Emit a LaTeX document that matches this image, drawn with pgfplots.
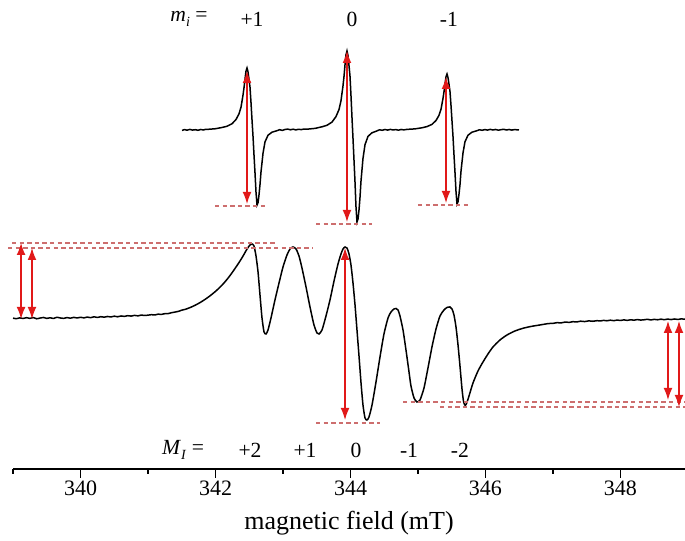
\documentclass[border=0pt]{standalone}
\usepackage{fontspec}
\setmainfont{Liberation Serif}
\usepackage{pgfplots}
\pgfplotsset{compat=1.18}
\usetikzlibrary{arrows.meta}
\definecolor{arr}{RGB}{225,25,25}
\definecolor{dsh}{RGB}{205,110,110}
\tikzset{
  darr/.style={arr, line width=0.6pt, {Latex[length=6pt,width=4.4pt]}-{Latex[length=6pt,width=4.4pt]}},
  dsl/.style={dsh, line width=0.6pt, dash pattern=on 2.2pt off 1.6pt},
}
\begin{document}
\begin{tikzpicture}
\begin{axis}[
  x=33.75pt, y=0.5pt,
  xmin=339, xmax=348.956, ymin=72, ymax=541,
  axis x line*=bottom, axis y line=none,
  clip=false,
  xtick={340,342,...,348},
  minor xtick={339,341,...,347},
  tick align=outside,
  major tick length=4.5pt, minor tick length=2.5pt,
  every tick/.style={black, line width=0.9pt},
  axis line style={line width=1pt, black},
  ticklabel style={font=\fontsize{11}{12}\selectfont, yshift=2pt},
  /pgf/number format/assume math mode=true,
  /pgf/number format/1000 sep={},
  xlabel={magnetic field (mT)},
  xlabel style={font=\fontsize{13}{14}\selectfont, at={(axis description cs:0.5,0)}, anchor=center, yshift=-27pt},
]
% top spectrum (three lines)
\addplot[black, line width=0.75pt] coordinates {
(341.504,410.6)(341.54,411.4)(341.58,410.8)(341.62,411.6)(341.66,410.9)(341.70,411.3)(341.74,410.7)(341.78,411.5)(341.82,411.0)(341.85,411.6)
(341.874,411.6)(341.993,412.2)(342.096,413.5)(342.170,414.7)(342.244,417.2)(342.304,421.5)(342.348,427.1)(342.378,433.9)(342.407,445.7)(342.422,453.2)(342.437,461.8)(342.452,469.9)(342.467,473)(342.481,469.3)(342.496,461.8)(342.511,453.8)(342.526,438.3)(342.541,420.9)(342.556,404.3)(342.570,386.3)(342.585,368.3)(342.600,348.8)(342.615,336)(342.630,338.3)(342.644,345.8)(342.659,356.3)(342.674,369)(342.704,387.8)(342.733,399)(342.778,405.8)(342.837,408.8)(342.911,410.3)
(342.95,411.3)(342.99,410.6)(343.03,411.5)(343.07,411.9)(343.11,411.2)(343.15,411.8)(343.19,411.1)(343.23,411.7)(343.27,411.4)(343.31,411.9)
(343.356,411.8)(343.474,412.6)(343.578,414.2)(343.652,415.7)(343.726,418.9)(343.785,424.4)(343.830,431.5)(343.859,440.2)(343.889,455.2)(343.904,464.7)(343.918,475.8)(343.933,486.1)(343.948,490)(343.963,485.3)(343.977,475.8)(343.992,465.5)(344.007,445.8)(344.022,423.6)(344.037,402.7)(344.052,380.6)(344.067,358.6)(344.081,334.6)(344.096,319)(344.111,321.8)(344.126,331)(344.141,343.8)(344.155,359.5)(344.185,382.5)(344.215,396.3)(344.259,404.6)(344.318,408.2)(344.393,410.1)
(344.43,411.2)(344.47,410.7)(344.51,411.5)(344.55,410.9)(344.59,411.6)(344.63,411.0)(344.67,411.4)(344.71,410.8)(344.75,411.5)(344.79,411.1)
(344.837,411.6)(344.955,412.1)(345.059,413.2)(345.133,414.4)(345.207,416.6)(345.267,420.5)(345.311,425.6)(345.341,431.7)(345.370,442.4)(345.385,449.1)(345.400,456.9)(345.415,464.2)(345.430,467)(345.444,463.6)(345.459,456.9)(345.474,449.6)(345.489,435.6)(345.504,420)(345.519,404.3)(345.533,386.6)(345.548,368.8)(345.563,349.6)(345.578,337)(345.593,339.2)(345.607,346.6)(345.622,356)(345.637,369.6)(345.667,388.1)(345.696,399.2)(345.741,405.8)(345.800,408.8)(345.874,410.3)
(345.91,411.2)(345.95,410.7)(345.99,411.4)(346.03,410.9)(346.07,411.6)(346.11,411.0)(346.15,411.5)(346.19,410.8)(346.23,411.3)(346.27,411.7)(346.31,411.0)(346.35,411.5)(346.39,410.9)(346.43,411.4)(346.496,411.0)
};
% bottom spectrum (five lines)
\addplot[black, line width=0.75pt, smooth, tension=0.4] coordinates {
(339.00,222.8)(339.05,222.3)(339.10,223.1)(339.15,222.5)(339.20,223.3)(339.25,222.6)(339.30,223.4)(339.35,222.2)(339.40,222.9)(339.45,223.5)(339.50,222.6)(339.55,223.2)(339.60,222.5)(339.65,223.7)(339.70,223.0)(339.75,222.6)(339.80,223.4)(339.85,222.8)(339.90,223.6)(339.95,223.0)
(340.00,223.7)(340.05,223.1)(340.10,223.9)(340.15,223.3)(340.20,224.2)(340.25,223.5)(340.30,224.3)(340.35,223.8)(340.40,224.5)(340.45,224.0)(340.50,224.8)(340.55,224.2)(340.60,225.0)(340.65,224.6)(340.70,225.3)(340.75,224.9)(340.80,225.6)(340.85,225.1)(340.90,225.9)(340.95,225.5)
(341.00,225.8)(341.05,226.3)(341.10,226.0)(341.15,226.8)(341.20,226.6)(341.25,227.3)(341.30,227.4)(341.35,228.3)(341.40,228.9)(341.45,229.6)(341.50,230.8)(341.55,231.6)(341.60,232.8)(341.65,234.2)(341.70,235.8)(341.75,237.6)(341.80,239.6)(341.85,241.8)(341.90,244.2)
(341.95,246.8)(342.00,249.6)(342.05,252.7)(342.10,256.1)(342.15,259.9)(342.20,264.1)(342.25,268.7)(342.30,273.6)
(342.363,280.0)(342.422,286.6)(342.467,292)(342.511,296)(342.541,297)(342.570,295)(342.600,285)(342.630,269)(342.659,246)(342.689,223)(342.719,209)(342.748,207)(342.778,211)(342.822,223)(342.881,241)(342.941,258)
(343.000,274)(343.059,286)(343.104,292)(343.148,294)(343.193,292)(343.237,285)(343.281,273)(343.341,254)(343.400,234)(343.459,216)(343.504,208)(343.533,207)(343.578,211)(343.637,225)(343.696,241)(343.756,260)(343.815,277)(343.859,287)(343.889,292)(343.919,294)(343.948,293)(343.978,287)
(344.007,276)(344.037,258)(344.067,236)(344.096,211)(344.126,185)(344.156,158)(344.185,136)(344.215,123)(344.244,121)(344.274,124)(344.319,136)(344.378,159)(344.437,184)(344.496,207)(344.556,223)(344.600,229)(344.644,232)(344.674,232.5)(344.704,231)(344.733,225)(344.778,211)(344.822,191)(344.867,169)(344.896,155)(344.941,143)(344.985,139)
(345.030,141)(345.089,153)(345.148,173)(345.207,194)(345.267,212)(345.326,225)(345.385,231)(345.430,233.5)(345.474,234)(345.504,232)(345.533,226)(345.563,214)(345.593,196)(345.622,175)(345.652,152)(345.676,139)(345.700,135.5)(345.725,138.5)
(345.756,145)(345.815,158)(345.889,170)(345.963,179)(346.037,187)(346.111,194)(346.215,201)(346.319,206)(346.437,210)(346.556,212.7)(346.68,214.6)(346.807,216)(346.93,217.4)(347.00,217.6)(347.059,218.3)
(347.12,218.1)(347.18,218.9)(347.24,218.6)(347.296,219.3)(347.35,219.0)(347.41,219.8)(347.47,219.4)(347.53,220.1)(347.59,219.7)(347.652,220.3)(347.70,220.0)(347.75,220.6)(347.80,220.2)(347.85,220.8)(347.90,220.3)(347.95,220.9)
(348.00,220.5)(348.05,221.1)(348.10,220.6)(348.15,221.2)(348.20,220.8)(348.25,221.4)(348.30,220.9)(348.35,221.2)(348.40,221.7)(348.45,221.0)(348.50,221.6)(348.55,221.2)(348.60,221.8)(348.65,221.3)(348.70,221.9)(348.75,221.4)(348.80,222.0)(348.85,221.5)(348.90,222.1)(348.956,221.7)
};
% dashed reference lines, top spectrum
\addplot[dsl] coordinates {(341.993,335)(342.763,335)};
\addplot[dsl] coordinates {(343.489,317)(344.319,317)};
\addplot[dsl] coordinates {(345.000,336)(345.741,336)};
% dashed reference lines, bottom spectrum
\addplot[dsl] coordinates {(338.985,298)(342.911,298)};
\addplot[dsl] coordinates {(338.926,293)(343.430,293)};
\addplot[dsl] coordinates {(343.489,118)(344.437,118)};
\addplot[dsl] coordinates {(344.778,139)(348.956,139)};
\addplot[dsl] coordinates {(345.326,134)(348.956,134)};
% arrows, top spectrum
\addplot[darr] coordinates {(342.467,470)(342.467,337)};
\addplot[darr] coordinates {(343.948,490)(343.948,319)};
\addplot[darr] coordinates {(345.415,464)(345.415,338)};
% arrows, bottom spectrum
\addplot[darr] coordinates {(339.119,298)(339.119,222)};
\addplot[darr] coordinates {(339.281,293)(339.281,222)};
\addplot[darr] coordinates {(343.919,293)(343.919,121)};
\addplot[darr] coordinates {(348.704,220)(348.704,141)};
\addplot[darr] coordinates {(348.867,220)(348.867,134)};
% labels
\node[font=\fontsize{10.8}{12}\selectfont] at (axis cs:341.607,522) {\textit{m}\raisebox{-0.45ex}{\scriptsize\textit{i}} =};
\node[font=\fontsize{10.8}{12}\selectfont] at (axis cs:342.541,522) {+1};
\node[font=\fontsize{10.8}{12}\selectfont] at (axis cs:344.022,522) {0};
\node[font=\fontsize{10.8}{12}\selectfont] at (axis cs:345.459,522) {-1};
\node[font=\fontsize{10.8}{12}\selectfont] at (axis cs:341.519,91) {\textit{M}\raisebox{-0.45ex}{\scriptsize\textit{I}} =};
\node[font=\fontsize{10.8}{12}\selectfont] at (axis cs:342.511,91) {+2};
\node[font=\fontsize{10.8}{12}\selectfont] at (axis cs:343.326,91) {+1};
\node[font=\fontsize{10.8}{12}\selectfont] at (axis cs:344.081,91) {0};
\node[font=\fontsize{10.8}{12}\selectfont] at (axis cs:344.867,91) {-1};
\node[font=\fontsize{10.8}{12}\selectfont] at (axis cs:345.622,91) {-2};
\coordinate (bbsw) at (axis cs:338.807,0);
\coordinate (bbne) at (axis cs:348.956,541);
\end{axis}
\pgfresetboundingbox
\path[use as bounding box] (bbsw) rectangle (bbne);
\end{tikzpicture}
\end{document}
